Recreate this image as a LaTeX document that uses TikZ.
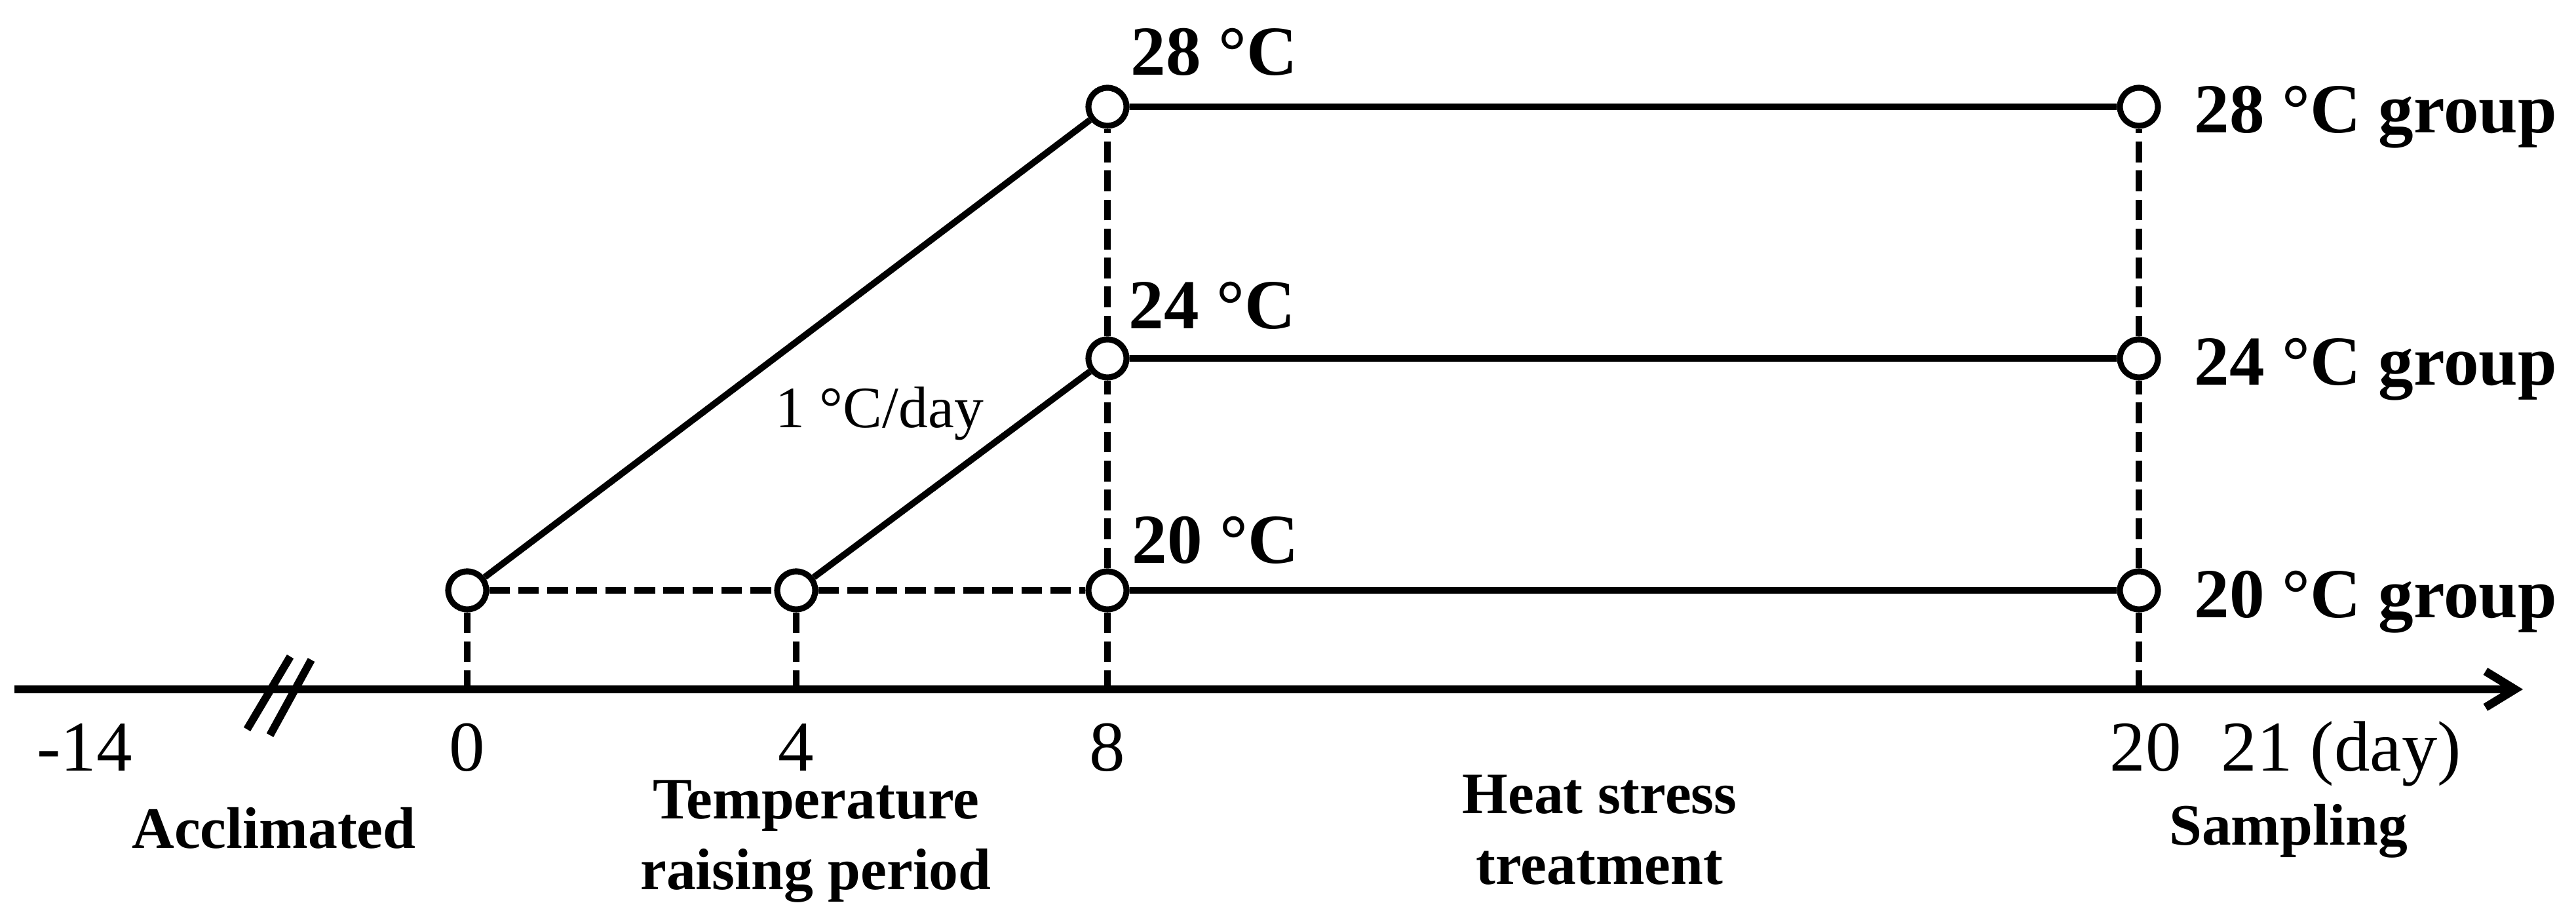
\documentclass[tikz,border=0pt]{standalone}
\usepackage{fontspec}
\setmainfont{Liberation Serif}
\usetikzlibrary{positioning,arrows.meta}

\begin{document}
\begin{tikzpicture}[on grid,
	pt/.style={circle, draw, fill=white, line width=2.6pt, minimum size=0.58cm, inner sep=0pt},
	ramp/.style={line width=2.8pt},
	guide/.style={line width=2.9pt, dash pattern=on 9pt off 3.6pt},
	temp/.style={font=\fontsize{30.5}{36}\selectfont\bfseries, inner sep=0pt},
	tick/.style={font=\fontsize{31}{36}\selectfont, inner sep=0pt},
	phase/.style={font=\fontsize{25.5}{31}\selectfont\bfseries, align=center, inner sep=0pt}]
\useasboundingbox (0,0) rectangle (39.31,14.04);
\coordinate							(axL)		at (0.22,3.52);
\coordinate							(axR)		at (38.50,3.52);
\coordinate							(tk)		at (0,2.27);
\draw[line width=3.6pt, -{Straight Barb[length=0.45cm,width=0.55cm]}] (axL) -- (axR);
\draw[line width=3.4pt] (3.77,2.91) -- (4.43,4.02) (4.12,2.82) -- (4.75,3.97);

\node[pt]							(d0)		at (7.13,5.03)						{};
\node[pt]							(d4)		[right=5.02cm of d0]				{};
\node[pt]							(c20)		[right=4.75cm of d4]				{};
\node[pt]							(c24)		[above=3.54cm of c20]				{};
\node[pt]							(c28)		[above=3.84cm of c24]				{};
\node[pt]							(g20)		[right=15.74cm of c20]				{};
\node[pt]							(g24)		[right=15.74cm of c24]				{};
\node[pt]							(g28)		[right=15.74cm of c28]				{};

\draw[ramp] (d0) -- (c28) (d4) -- (c24)
	(c20) -- (g20) (c24) -- (g24) (c28) -- (g28);
\draw[guide] (d0) -- (d4) (d4) -- (c20)
	(d0) -- (d0 |- axL) (d4) -- (d4 |- axL)
	(c20) -- (c20 |- axL) (c20) -- (c24) (c24) -- (c28)
	(g20) -- (g20 |- axL) (g20) -- (g24) (g24) -- (g28);

\node[temp, anchor=base west]		(l28)		at ([shift={(0.35,0.48)}]c28.center)	{28 °C};
\node[temp, anchor=base west]		(l24)		at ([shift={(0.32,0.45)}]c24.center)	{24 °C};
\node[temp, anchor=base west]		(l20)		at ([shift={(0.37,0.41)}]c20.center)	{20 °C};
\node[temp, anchor=base west]		(lg28)		at ([shift={(0.84,-0.40)}]g28.center)	{28 °C group};
\node[temp, anchor=base west]		(lg24)		at ([shift={(0.84,-0.41)}]g24.center)	{24 °C group};
\node[temp, anchor=base west]		(lg20)		at ([shift={(0.84,-0.42)}]g20.center)	{20 °C group};
\node[tick, anchor=base west, font=\fontsize{25.5}{31}\selectfont]	(rate)	at (11.83,7.51)	{1 °C/day};

\node[tick, anchor=base]			(n14)		at (1.29,2.27)						{-14};
\node[tick, anchor=base]			(n0)		at (d0 |- tk)						{0};
\node[tick, anchor=base]			(n4)		at (d4 |- tk)						{4};
\node[tick, anchor=base]			(n8)		at (c20 |- tk)						{8};
\node[tick, anchor=base]			(n20)		at ([xshift=0.1cm]g20 |- tk)		{20};
\node[tick, anchor=base west]		(n21)		at (33.89,2.27)						{21 (day)};

\node[phase, anchor=base]			(acc)		at (4.18,1.09)						{Acclimated};
\node[phase, anchor=base]			(rise)		at (12.45,0.46)						{Temperature\\raising period};
\node[phase, anchor=base]			(heat)		at (24.41,0.54)						{Heat stress\\treatment};
\node[phase, anchor=base]			(samp)		at (34.92,1.14)						{Sampling};
\end{tikzpicture}
\end{document}
